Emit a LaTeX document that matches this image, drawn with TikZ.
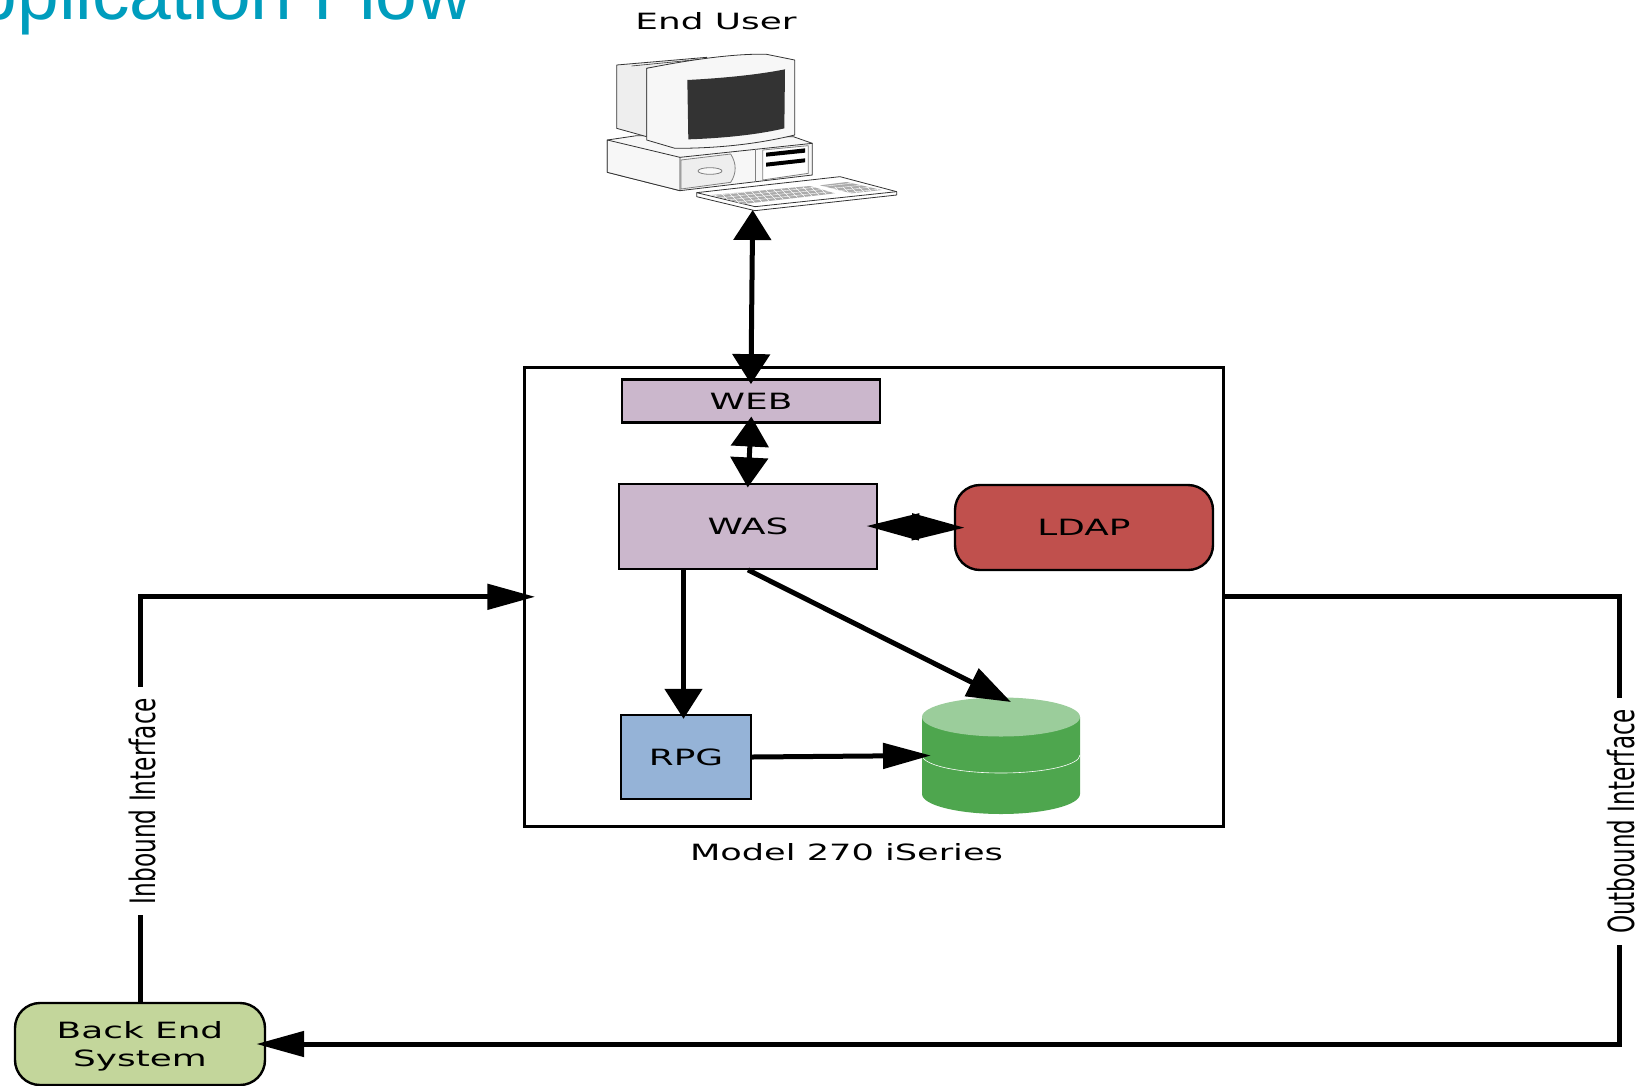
\documentclass[tikz,border=0pt]{standalone}
\usepackage{fontspec}
\setmainfont{DejaVu Sans}
\newfontfamily\widefont[FakeStretch=1.6]{DejaVu Sans}
\newfontfamily\capfont[FakeStretch=1.57]{DejaVu Sans}
\newfontfamily\narrowfont[FakeStretch=0.665]{DejaVu Sans}
\newfontfamily\narrowerfont[FakeStretch=0.64]{DejaVu Sans}
\newfontfamily\titlefont{Liberation Sans}
\usetikzlibrary{arrows.meta}
\definecolor{titleblue}{HTML}{009DBD}
\definecolor{mauve}{HTML}{CBB7CC}
\definecolor{ldapred}{HTML}{C0504D}
\definecolor{rpgblue}{HTML}{95B3D7}
\definecolor{backgreen}{HTML}{C3D69B}
\definecolor{dbtopc}{HTML}{9BCD9B}
\definecolor{dbbody}{HTML}{4EA64E}
\definecolor{pcline}{HTML}{333333}
\definecolor{pcface}{HTML}{F7F7F7}
\definecolor{pcside}{HTML}{EEEEEE}
\definecolor{pckeys}{HTML}{ABABAB}
\tikzset{
  boxtext/.style={font=\widefont\fontsize{22.4}{28}\selectfont,text=black,align=center,inner sep=0pt},
  oneline/.style={boxtext,text height=16.5pt,text depth=0pt},
  plainbox/.style={oneline,draw=black,line width=2.4pt,minimum width=#1},
  roundbox/.style={draw=black,line width=2.4pt,rounded corners=25pt},
  caption/.style={oneline},
  flow/.style={line width=5pt,draw=black},
  vdown/.style={-{Triangle[length=30pt,width=37pt]}},
  vboth/.style={{Triangle[length=30pt,width=37pt]}-{Triangle[length=30pt,width=37pt]}},
  hright/.style={-{Triangle[length=48pt,width=25pt]}},
  hlong/.style={-{Triangle[length=53pt,width=26pt]}},
  diagtip/.style={-{Triangle[length=44pt,width=30pt]}},
  sidelabel/.style={fill=white,rotate=90,inner xsep=11pt,inner ysep=2pt},
  pc/.style={draw=pcline,line width=0.8pt,line join=round}
}
\begin{document}
\begin{tikzpicture}[x=1pt,y=-1pt]
\useasboundingbox (0,0) rectangle (1642,1085);
\clip (0,0) rectangle (1642,1085);
% title
\node[anchor=base east,inner sep=0pt,text=titleblue,font=\titlefont\fontsize{75}{80}\selectfont] (title) at (472,19.5) {Application Flow};
% computer
\node[caption] (enduser) at (716,21) {End User};
\begin{scope}[shift={(580,0)},x=0.33333pt,y=-0.33333pt]
  \fill[pcface,draw=pcline,line width=0.8pt] (82,420) -- (170,407) -- (640,410) -- (697,430) -- (697,525) -- (300,572) -- (82,517) -- cycle;
  \draw[pc,fill=pcface] (82,420) -- (300,472) -- (300,572) -- (82,517) -- cycle;
  \draw[pc] (300,472) -- (697,430);
  \draw[pc,line width=0.5pt,draw=gray] (525,448) -- (525,545);
  \draw[pc,draw=gray,fill=pcside] (303,480) -- (452,462) .. controls (470,490) and (470,520) .. (452,547) -- (303,567) -- cycle;
  \draw[pc,draw=gray,fill=pcface] (390,513) ellipse [x radius=36,y radius=10];
  \draw[pc,draw=gray,fill=white] (548,450) -- (685,437) -- (685,520) -- (548,540) -- cycle;
  \fill[black] (558,458) -- (675,445) -- (675,458) -- (558,470) -- cycle;
  \fill[black] (558,488) -- (675,475) -- (675,487) -- (558,500) -- cycle;
  % monitor
  \draw[pc,fill=pcside] (110,195) -- (380,172) -- (380,180) -- (200,205) -- (200,410) -- (110,385) -- cycle;
  \draw[line width=0.6pt,draw=pcline] (155,198) -- (360,178);
  \draw[pc,fill=pcface] (200,205) .. controls (350,175) and (480,160) .. (560,163) -- (644,180) -- (644,405) .. controls (520,435) and (400,445) .. (285,445) -- (200,420) -- cycle;
  \fill[pcline] (322,240) .. controls (420,235) and (530,225) .. (615,208) -- (613,385) .. controls (530,405) and (420,415) .. (325,418) -- cycle;
  % keyboard
  \draw[pc,fill=white] (350,578) -- (780,530) -- (950,575) -- (950,585) -- (525,632) -- (350,590) -- cycle;
  \draw[pc] (350,578) -- (525,620) -- (950,575);
  \begin{scope}
    \clip (395,585) -- (690,558) -- (765,580) -- (490,612) -- cycle
          (720,556) -- (800,546) -- (905,570) -- (815,580) -- cycle;
    \fill[pckeys] (380,530) rectangle (920,620);
    \foreach \k in {0,24,...,600} {\draw[white,line width=0.4pt] (380+\k,560) -- (440+\k,620);}
    \foreach \k in {0,9,...,80} {\draw[white,line width=0.4pt] (380,580+\k) -- (920,520+\k);}
  \end{scope}
\end{scope}
\coordinate (pcport) at (752.7,210);
% container
\node[draw=black,line width=2.4pt,minimum width=699pt,minimum height=459pt,inner sep=0pt] (outer) at (874,596.8) {};
\node[caption,font=\capfont\fontsize{22.4}{28}\selectfont] (modellabel) at (846.5,852.5) {Model 270 iSeries};
\node[plainbox=258pt,fill=mauve,minimum height=43pt] (web) at (751,400.8) {WEB};
\node[plainbox=258pt,fill=mauve,minimum height=85pt] (was) at (748,526.2) {WAS};
\node[oneline,roundbox,fill=ldapred,minimum width=258pt,minimum height=85pt] (ldap) at (1084,527.5) {LDAP};
\node[plainbox=130pt,fill=rpgblue,minimum height=84pt] (rpg) at (686,757) {RPG};
\node[boxtext,roundbox,fill=backgreen,minimum width=250pt,minimum height=82pt] (backend) at (140,1044) {\rule{0pt}{22pt}Back End\\System};
% database
\fill[dbbody] (922,717) -- (922,794) arc[start angle=180,end angle=0,x radius=79,y radius=20] -- (1080,717) -- cycle;
\draw[white,line width=0.6pt] (922,755) arc[start angle=180,end angle=0,x radius=79,y radius=18];
\fill[dbtopc] (1001,717) ellipse [x radius=79,y radius=19.5];
\coordinate (dbtop) at (1011,702);
\coordinate (dbside) at (931,755.5);
% connectors
\draw[flow,vboth,shorten >=-6pt] (pcport) -- (web.north);
\draw[flow,vboth,shorten <=-7pt,shorten >=-5pt] (web.south) -- (was.north);
\path (was.east) -- coordinate[midway] (ldapmid) (ldap.west);
\draw[flow,hlong,shorten >=-11pt] ([xshift=-3pt]ldapmid) -- (ldap.west);
\draw[flow,hlong,shorten >=-12pt] ([xshift=3pt]ldapmid) -- (was.east);
\draw[flow,vdown,shorten >=-5pt] ([xshift=-2.5pt]rpg.north |- was.south) -- ([xshift=-2.5pt]rpg.north);
\draw[flow,diagtip] (was.south) -- (dbtop);
\draw[flow,hright] (rpg.east) -- (dbside);
\draw[flow,hright,shorten >=-12pt] (backend.north) -- node[sidelabel,pos=0.5,xshift=-1.7pt,yshift=-2pt] (inlabel) {\narrowfont\fontsize{35}{40}\selectfont Inbound Interface} (backend.north |- outer.west) -- (outer.west);
\coordinate (outcorner) at (1619,596.8);
\draw[flow,hright,shorten >=-10pt] (outer.east) -- (outcorner) -- node[sidelabel,pos=0.5,xshift=-1pt,yshift=-2pt] (outlabel) {\narrowerfont\fontsize{36}{40}\selectfont Outbound Interface} (outcorner |- backend.east) -- (backend.east);
\end{tikzpicture}
\end{document}
